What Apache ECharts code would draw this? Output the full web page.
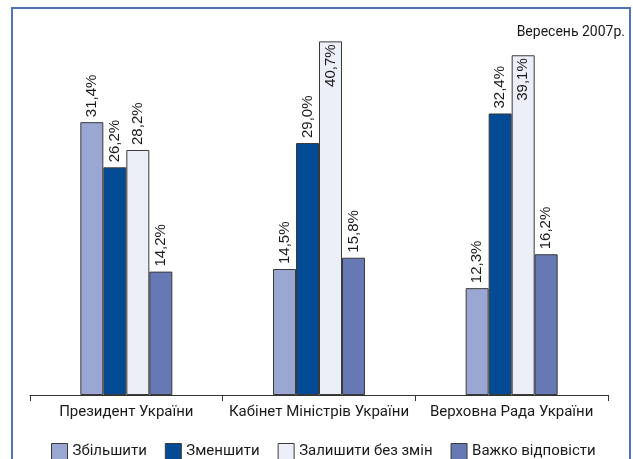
<!DOCTYPE html>
<html lang="uk">
<head>
<meta charset="UTF-8">
<title>Вересень 2007р.</title>
<script src="https://cdn.jsdelivr.net/npm/echarts@6/dist/echarts.min.js"></script>
<style>
    html, body { margin: 0; padding: 0; background: #fff; }
    #container { width: 633px; height: 459px; }
</style>
</head>
<body>
<div id="container"></div>
<script type="text/javascript">
    // дані з діаграми
    const categories = ['Президент України', 'Кабінет Міністрів України', 'Верховна Рада України'];
    const seriesNames = ['Збільшити', 'Зменшити', 'Залишити без змін', 'Важко відповісти'];
    const increase = [31.4, 14.5, 12.3];
    const decrease = [26.2, 29.0, 32.4];
    const noChange = [28.2, 40.7, 39.1];
    const hardToSay = [14.2, 15.8, 16.2];

    const colors = ['#9aa7d2', '#034b94', '#eceef8', '#6779b5'];
    const narrow = 'Roboto, "Liberation Sans", sans-serif';

    const dom = document.getElementById('container');
    const myChart = echarts.init(dom, null, { renderer: 'canvas' });

    function fmt(v) {
        return v.toFixed(1).replace('.', ',') + '%';
    }

    // мітки: над стовпчиком, а для високих - всередині
    function makeData(arr) {
        return arr.map(function (v) {
            if (v > 38) {
                return {
                    value: v,
                    label: { position: 'insideTop', align: 'right', distance: 3 }
                };
            }
            return v;
        });
    }

    function makeSeries(name, arr, i) {
        return {
            name: name,
            type: 'bar',
            data: makeData(arr),
            barWidth: 23,
            barGap: '0%',
            itemStyle: { color: colors[i], borderColor: '#3a3a3a', borderWidth: 1 },
            label: {
                show: true,
                position: 'top',
                rotate: 90,
                align: 'left',
                verticalAlign: 'middle',
                distance: 5,
                color: '#1a1a1a',
                fontFamily: '"Liberation Sans", Arial, sans-serif',
                fontSize: 15,
                formatter: function (p) { return fmt(p.value); }
            }
        };
    }

    const option = {
        animation: false,
        backgroundColor: '#fff',
        grid: { left: 30, right: 25, top: 4, bottom: 64 },
        legend: {
            left: 46,
            top: 438,
            itemWidth: 16,
            itemHeight: 16,
            itemGap: 18,
            icon: 'rect',
            itemStyle: { borderColor: '#3a3a3a', borderWidth: 1 },
            textStyle: { fontFamily: narrow, fontSize: 15, color: '#1a1a1a' },
            data: seriesNames
        },
        xAxis: {
            type: 'category',
            data: categories,
            axisLine: { lineStyle: { color: '#333', width: 1 } },
            axisTick: { show: true, length: 6, lineStyle: { color: '#333' } },
            axisLabel: { interval: 0, margin: 10, fontFamily: narrow, fontSize: 15, color: '#1a1a1a' }
        },
        yAxis: {
            type: 'value',
            min: 0,
            max: 45,
            show: false
        },
        graphic: [
            {
                type: 'rect',
                shape: { x: 12, y: 8, width: 618, height: 470 },
                style: { fill: 'none', stroke: '#4d76b3', lineWidth: 2 },
                silent: true
            },
            {
                type: 'text',
                right: 8,
                top: 25,
                style: { text: 'Вересень 2007р.', font: '14px ' + narrow, fill: '#1a1a1a' }
            }
        ],
        series: [
            makeSeries(seriesNames[0], increase, 0),
            makeSeries(seriesNames[1], decrease, 1),
            makeSeries(seriesNames[2], noChange, 2),
            makeSeries(seriesNames[3], hardToSay, 3)
        ]
    };

    myChart.setOption(option);
</script>
</body>
</html>
